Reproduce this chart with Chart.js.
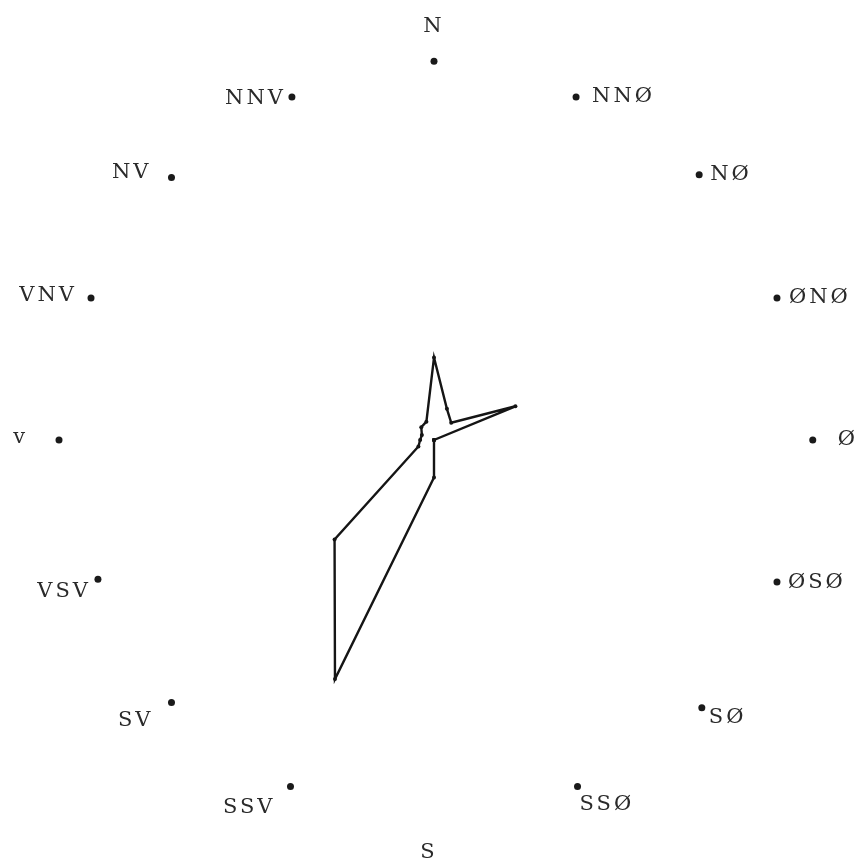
<!DOCTYPE html>
<html>
<head>
<meta charset="utf-8">
<script src="https://cdn.jsdelivr.net/npm/chart.js@4.4.0/dist/chart.umd.min.js"></script>
<style>
  html, body { margin: 0; padding: 0; background: #fff; }
  canvas { display: block; }
</style>
</head>
<body>
<canvas id="roseChart" width="856" height="868"></canvas>
<script>
/* Vindrose: 16 retninger, med uret fra N */
const directions = ["N", "NNØ", "NØ", "ØNØ", "Ø", "ØSØ", "SØ", "SSØ", "S", "SSV", "SV", "VSV", "V", "VNV", "NV", "NNV"];
// labels as they are typed on the sheet
const directionLabels = ["N", "NNØ", "NØ", "ØNØ", "Ø", "ØSØ", "SØ", "SSØ", "S", "SSV", "SV", "VSV", "v", "VNV", "NV", "NNV"];
// frequency per direction (outer ring = 100)
const windValues = [22, 9, 6.5, 23.5, 0, 0, 0, 0, 10, 69, 37.5, 4.5, 3.7, 3.5, 4.8, 5.3];
// the hand-placed outer ring dots
const ringValues = [101, 99, 100, 99, 101, 99, 101, 100, 102, 100, 99, 97, 100, 99, 99, 99];

/* label placement next to each ring dot: [dx, dy, align] */
const labelPlacement = [
  [0, -35, "center"], [16, 0, "left"], [11, 0, "left"], [12, 0, "left"],
  [25, 0, "left"], [11, 0, "left"], [7, 10, "left"], [2, 18, "left"],
  [-5, 30, "center"], [-15, 21, "right"], [-18, 18, "right"], [-7, 12, "right"],
  [-31, -2, "right"], [-14, -2, "right"], [-20, -5, "right"], [-6, 2, "right"],
];

const directionLabelPlugin = {
  id: "directionLabels",
  afterDatasetsDraw(chart) {
    const scale = chart.scales.r;
    const ctx = chart.ctx;
    ctx.save();
    ctx.font = "21px 'DejaVu Serif', 'Liberation Serif', serif";
    ctx.fillStyle = "#2a2a2a";
    ctx.textBaseline = "middle";
    if ("letterSpacing" in ctx) ctx.letterSpacing = "3px";
    directionLabels.forEach((text, i) => {
      const pos = scale.getPointPositionForValue(i, ringValues[i]);
      const [dx, dy, align] = labelPlacement[i];
      ctx.textAlign = align;
      ctx.fillText(text, pos.x + dx, pos.y + dy);
    });
    ctx.restore();
  },
};

new Chart(document.getElementById("roseChart").getContext("2d"), {
  type: "radar",
  data: {
    labels: directions,
    datasets: [
      {
        label: "Vind",
        data: windValues,
        borderColor: "#151515",
        borderWidth: 2.4,
        fill: false,
        tension: 0,
        pointRadius: 2,
        pointBackgroundColor: "#151515",
        pointBorderWidth: 0,
      },
      {
        label: "Ring",
        data: ringValues,
        showLine: false,
        fill: false,
        pointRadius: 3.5,
        pointBackgroundColor: "#1a1a1a",
        pointBorderWidth: 0,
      },
    ],
  },
  options: {
    responsive: false,
    animation: false,
    layout: { padding: { left: 59, right: 47, top: 65, bottom: 53 } },
    plugins: { legend: { display: false }, tooltip: { enabled: false } },
    scales: {
      r: {
        min: 0,
        max: 100,
        ticks: { display: false },
        grid: { display: false },
        angleLines: { display: false },
        pointLabels: { display: false },
      },
    },
  },
  plugins: [directionLabelPlugin],
});
</script>
</body>
</html>
